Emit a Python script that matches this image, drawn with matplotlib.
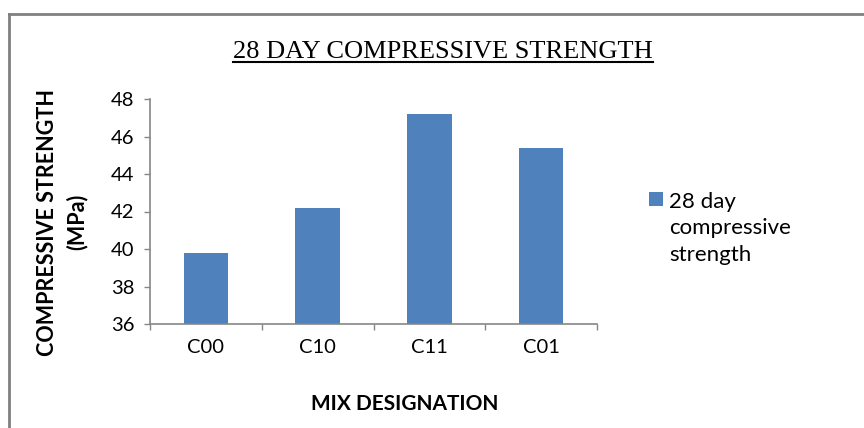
import matplotlib.pyplot as plt
from matplotlib.lines import Line2D
from matplotlib.offsetbox import HPacker

# 28 day compressive strength per mix
mixes = ['C00', 'C10', 'C11', 'C01']
strength = [39.8, 42.2, 47.2, 45.4]
yticks = [36, 38, 40, 42, 44, 46, 48]

bar_color = '#4F81BD'
axis_gray = '#868686'
label_font = ['Lato', 'DejaVu Sans']
tick_font = ['Lato', 'DejaVu Sans']

fig = plt.figure(figsize=(8.64, 4.28), dpi=100)
ax = fig.add_axes([150 / 864, 1 - 324 / 428, 447 / 864, 225 / 428])

x = range(len(mixes))
ax.bar(x, strength, width=0.4, color=bar_color, label='28 day\ncompressive\nstrength')

ax.set_xlim(-0.5, len(mixes) - 0.5)
ax.set_ylim(36, 48)
ax.set_yticks(yticks)
ax.set_yticklabels([str(v) for v in yticks], family=tick_font, fontsize=14.5)

# category boundaries get tick marks, centres get the labels
ax.set_xticks([i - 0.5 for i in range(len(mixes) + 1)])
ax.set_xticklabels([])
ax.set_xticks(list(x), minor=True)
ax.set_xticklabels(mixes, minor=True, family=tick_font, fontsize=14.5)
ax.tick_params(axis='x', which='major', length=4, color=axis_gray, width=1)
ax.tick_params(axis='x', which='minor', length=0, pad=11)
ax.tick_params(axis='y', length=4, color=axis_gray, width=1, pad=7)

for side in ['top', 'right']:
    ax.spines[side].set_visible(False)
for side in ['left', 'bottom']:
    ax.spines[side].set_color(axis_gray)
    ax.spines[side].set_linewidth(1.2)

fig.text(62 / 864, 1 - 222 / 428, 'COMPRESSIVE STRENGTH\n(MPa)', rotation=90,
         ha='center', va='center', multialignment='center', linespacing=1.45,
         family=label_font, fontweight='bold', fontsize=15.5)
fig.text(405 / 864, 1 - 404 / 428, 'MIX DESIGNATION', ha='center', va='center',
         family=label_font, fontweight='bold', fontsize=15)

title = fig.text(443 / 864, 1 - 52 / 428, '28 DAY COMPRESSIVE STRENGTH',
                 ha='center', va='center', family='Liberation Serif', fontsize=19)

leg = ax.legend(loc='upper left', bbox_to_anchor=(649 / 864, 1 - 192 / 428),
                bbox_transform=fig.transFigure, frameon=False,
                prop={'family': tick_font, 'size': 16},
                handlelength=0.62, handleheight=0.62, handletextpad=0.3,
                borderpad=0, borderaxespad=0)
for t in leg.get_texts():
    t.set_linespacing(1.4)
# keep the swatch level with the first line of the label
for box in leg.findobj(HPacker):
    box.align = 'top'

# underline the title
fig.canvas.draw()
bb = title.get_window_extent().transformed(fig.transFigure.inverted())
fig.add_artist(Line2D([bb.x0, bb.x1], [bb.y0 + 0.003, bb.y0 + 0.003],
                      transform=fig.transFigure, color='black', linewidth=1.5))

# chart border (top and left edges)
fig.add_artist(Line2D([9 / 864, 1], [1 - 14 / 428, 1 - 14 / 428],
                      transform=fig.transFigure, color='#808080', linewidth=2))
fig.add_artist(Line2D([9 / 864, 9 / 864], [0, 1 - 14 / 428],
                      transform=fig.transFigure, color='#808080', linewidth=2))

fig.savefig('out.png', dpi=100)
